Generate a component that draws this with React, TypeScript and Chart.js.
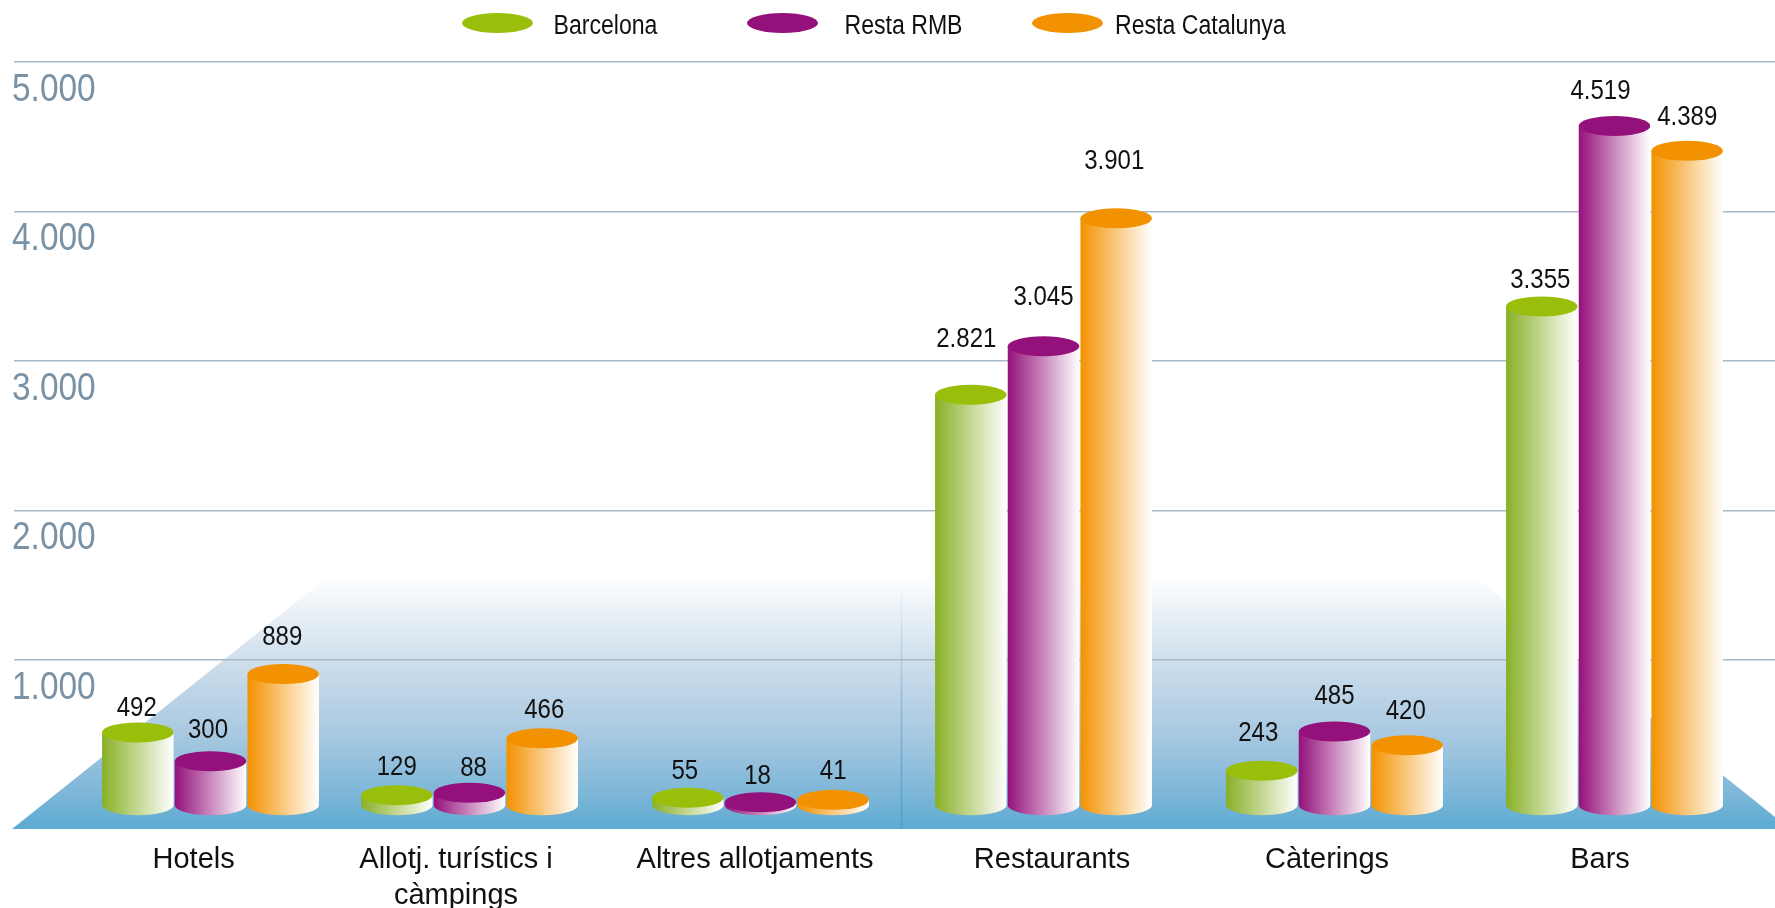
import React, { useEffect, useRef } from "react";
import { Chart, registerables } from "chart.js";

Chart.register(...registerables);

const categories = ["Hotels", ["Allotj. turístics i", "càmpings"], "Altres allotjaments", "Restaurants", "Càterings", "Bars"];
const barcelona = [492, 129, 55, 2821, 243, 3355];
const restaRMB = [300, 88, 18, 3045, 485, 4519];
const restaCatalunya = [889, 466, 41, 3901, 420, 4389];
const seriesNames = ["Barcelona", "Resta RMB", "Resta Catalunya"];
const seriesColors = ["#9abf0b", "#94117b", "#f39200"];
const bodyColors = ["#88b026", "#94117b", "#f39200"];

const W = 1775;
const H = 908;
const SANS = '"Liberation Sans", Arial, sans-serif';

// Layout tweaks (pixels)
const groupNudge = [49.75, 15.25, 12.75, 2.25, -0.25, -13.75];
const topNudge = [
  [0, 0, 1],
  [8.5, 0, 2],
  [0, -1, 0],
  [10.5, -4.5, -4.5],
  [1, -2, 2],
  [2, -4.5, 1],
];
const axisLabelCenters = [193.6, 456, 755, 1052, 1327, 1600];
const labelDx = [
  [-1, -2.5, -1],
  [0, 4, 2],
  [-3, -3, 0],
  [-4.5, 0, -2],
  [-3.5, 0, -1.5],
  [-1.5, -14, 0],
];
const labelDy = [
  [-24, -31, -37],
  [-28, -24, -28],
  [-26, -26, -28],
  [-55, -49, -57],
  [-37, -35, -34],
  [-26, -34, -33],
];
const legendEllipseX = [497.5, 782.5, 1067.5];
const legendTextX = [553.5, 844.5, 1115];

const CYL_W = 71.5;
const ELL_H = 20;
const BASE_SHIFT = 3.5;

const fmt = (v: number) => String(v).replace(/\B(?=(\d{3})+(?!\d))/g, ".");

function ellipse(ctx: CanvasRenderingContext2D, cx: number, cy: number, rx: number, ry: number) {
  ctx.beginPath();
  ctx.ellipse(cx, cy, rx, ry, 0, 0, Math.PI * 2);
}

function squeezedText(ctx: CanvasRenderingContext2D, text: string, x: number, y: number, sx: number) {
  ctx.save();
  ctx.translate(x, y);
  ctx.scale(sx, 1);
  ctx.fillText(text, 0, 0);
  ctx.restore();
}

const pictorial = {
  id: "pictorial",
  afterDatasetsUpdate(chart: any) {
    chart.data.datasets.forEach((_: any, d: number) => {
      chart.getDatasetMeta(d).data.forEach((el: any, i: number) => {
        el.x += groupNudge[i];
        el.y += topNudge[i][d] - BASE_SHIFT;
        el.base -= BASE_SHIFT;
      });
    });
    // move the category labels to their own centres
    const xs = chart.scales.x;
    xs.getLabelItems(chart.chartArea).forEach((it: any, i: number) => {
      it.options.translation[0] = axisLabelCenters[i];
    });
  },
  beforeDraw(chart: any) {
    const ctx: CanvasRenderingContext2D = chart.ctx;
    ctx.save();
    // floor
    const g = ctx.createLinearGradient(0, 575, 0, 829);
    g.addColorStop(0, "rgba(255,255,255,1)");
    g.addColorStop(0.33, "#cfdfec");
    g.addColorStop(0.62, "#a9c9e1");
    g.addColorStop(0.85, "#7fb7d8");
    g.addColorStop(1, "#5cabd1");
    ctx.fillStyle = g;
    ctx.beginPath();
    ctx.moveTo(12, 829);
    ctx.lineTo(330, 575);
    ctx.lineTo(1473, 575);
    ctx.lineTo(1775, 817);
    ctx.lineTo(1775, 829);
    ctx.closePath();
    ctx.fill();
    const v = ctx.createLinearGradient(0, 575, 0, 829);
    v.addColorStop(0, "rgba(90,170,210,0)");
    v.addColorStop(1, "rgba(70,160,205,0.9)");
    ctx.strokeStyle = v;
    ctx.lineWidth = 1.5;
    ctx.beginPath();
    ctx.moveTo(901.5, 575);
    ctx.lineTo(901.5, 829);
    ctx.stroke();
    ctx.restore();
  },
  afterDatasetsDraw(chart: any) {
    const ctx: CanvasRenderingContext2D = chart.ctx;
    ctx.save();
    const n = chart.data.labels.length;
    for (let i = 0; i < n; i++) {
      chart.data.datasets.forEach((ds: any, d: number) => {
        const el = chart.getDatasetMeta(d).data[i];
        const x = el.x;
        const top = el.y;
        const base = el.base;
        const left = x - CYL_W / 2;
        const rx = CYL_W / 2;
        const ry = ELL_H / 2;
        const grad = ctx.createLinearGradient(left, 0, left + CYL_W, 0);
        grad.addColorStop(0, bodyColors[d]);
        grad.addColorStop(1, "#ffffff");
        ctx.fillStyle = grad;
        ctx.beginPath();
        ctx.moveTo(left, top);
        ctx.lineTo(left + CYL_W, top);
        ctx.lineTo(left + CYL_W, base);
        ctx.ellipse(x, base, rx, ry, 0, 0, Math.PI);
        ctx.closePath();
        ctx.fill();
        ctx.fillStyle = seriesColors[d];
        ellipse(ctx, x, top, rx, ry);
        ctx.fill();
      });
    }
    // value labels
    ctx.fillStyle = "#111111";
    ctx.font = `27px ${SANS}`;
    ctx.textAlign = "center";
    ctx.textBaseline = "middle";
    for (let i = 0; i < n; i++) {
      chart.data.datasets.forEach((ds: any, d: number) => {
        const el = chart.getDatasetMeta(d).data[i];
        squeezedText(ctx, fmt(ds.data[i]), el.x + labelDx[i][d], el.y + labelDy[i][d], 0.89);
      });
    }
    // y axis labels
    ctx.textAlign = "left";
    ctx.fillStyle = "#7a92a6";
    ctx.font = `38px ${SANS}`;
    const ys = chart.scales.y;
    ys.ticks.forEach((t: any) => {
      if (t.value === 0) return;
      squeezedText(ctx, fmt(t.value), 12, ys.getPixelForValue(t.value) + 28.5, 0.88);
    });
    // legend
    ctx.font = `27px ${SANS}`;
    chart.data.datasets.forEach((ds: any, d: number) => {
      ctx.fillStyle = seriesColors[d];
      ellipse(ctx, legendEllipseX[d], 23, 35.5, ELL_H / 2);
      ctx.fill();
      ctx.fillStyle = "#111111";
      squeezedText(ctx, ds.label, legendTextX[d], 27, 0.855);
    });
    ctx.restore();
  },
};

export default function App() {
  const ref = useRef<HTMLCanvasElement | null>(null);
  useEffect(() => {
    const chart = new Chart(ref.current as HTMLCanvasElement, {
      type: "bar",
      data: {
        labels: categories as any,
        datasets: [barcelona, restaRMB, restaCatalunya].map((data, d) => ({
          label: seriesNames[d],
          data,
          backgroundColor: "rgba(0,0,0,0)",
          barThickness: 72.7,
        })),
      },
      options: {
        responsive: false,
        animation: false,
        devicePixelRatio: 1,
        layout: { padding: { left: 14, right: 0, top: 62, bottom: 0 } },
        plugins: { legend: { display: false }, tooltip: { enabled: false } },
        scales: {
          x: {
            grid: { display: false },
            border: { display: false },
            ticks: {
              autoSkip: false,
              maxRotation: 0,
              minRotation: 0,
              padding: 24,
              color: "#111111",
              font: { family: SANS, size: 29, lineHeight: 1.25 },
            },
            afterFit: (s: any) => { s.height = H - 809.5; },
          },
          y: {
            min: 0,
            max: 5000,
            grid: {
              drawTicks: false,
              lineWidth: 1.5,
              color: (c: any) => (c.tick && c.tick.value === 0 ? "rgba(0,0,0,0)" : "#a9b9c7"),
            },
            border: { display: false },
            ticks: { stepSize: 1000, display: false },
            afterFit: (s: any) => { s.width = 0; },
          },
        },
      } as any,
      plugins: [pictorial as any],
    });
    return () => chart.destroy();
  }, []);
  return (
    <div style={{ position: "absolute", left: 0, top: 0, width: W, height: H, background: "#ffffff" }}>
      <canvas ref={ref} width={W} height={H} style={{ display: "block" }} />
    </div>
  );
}
